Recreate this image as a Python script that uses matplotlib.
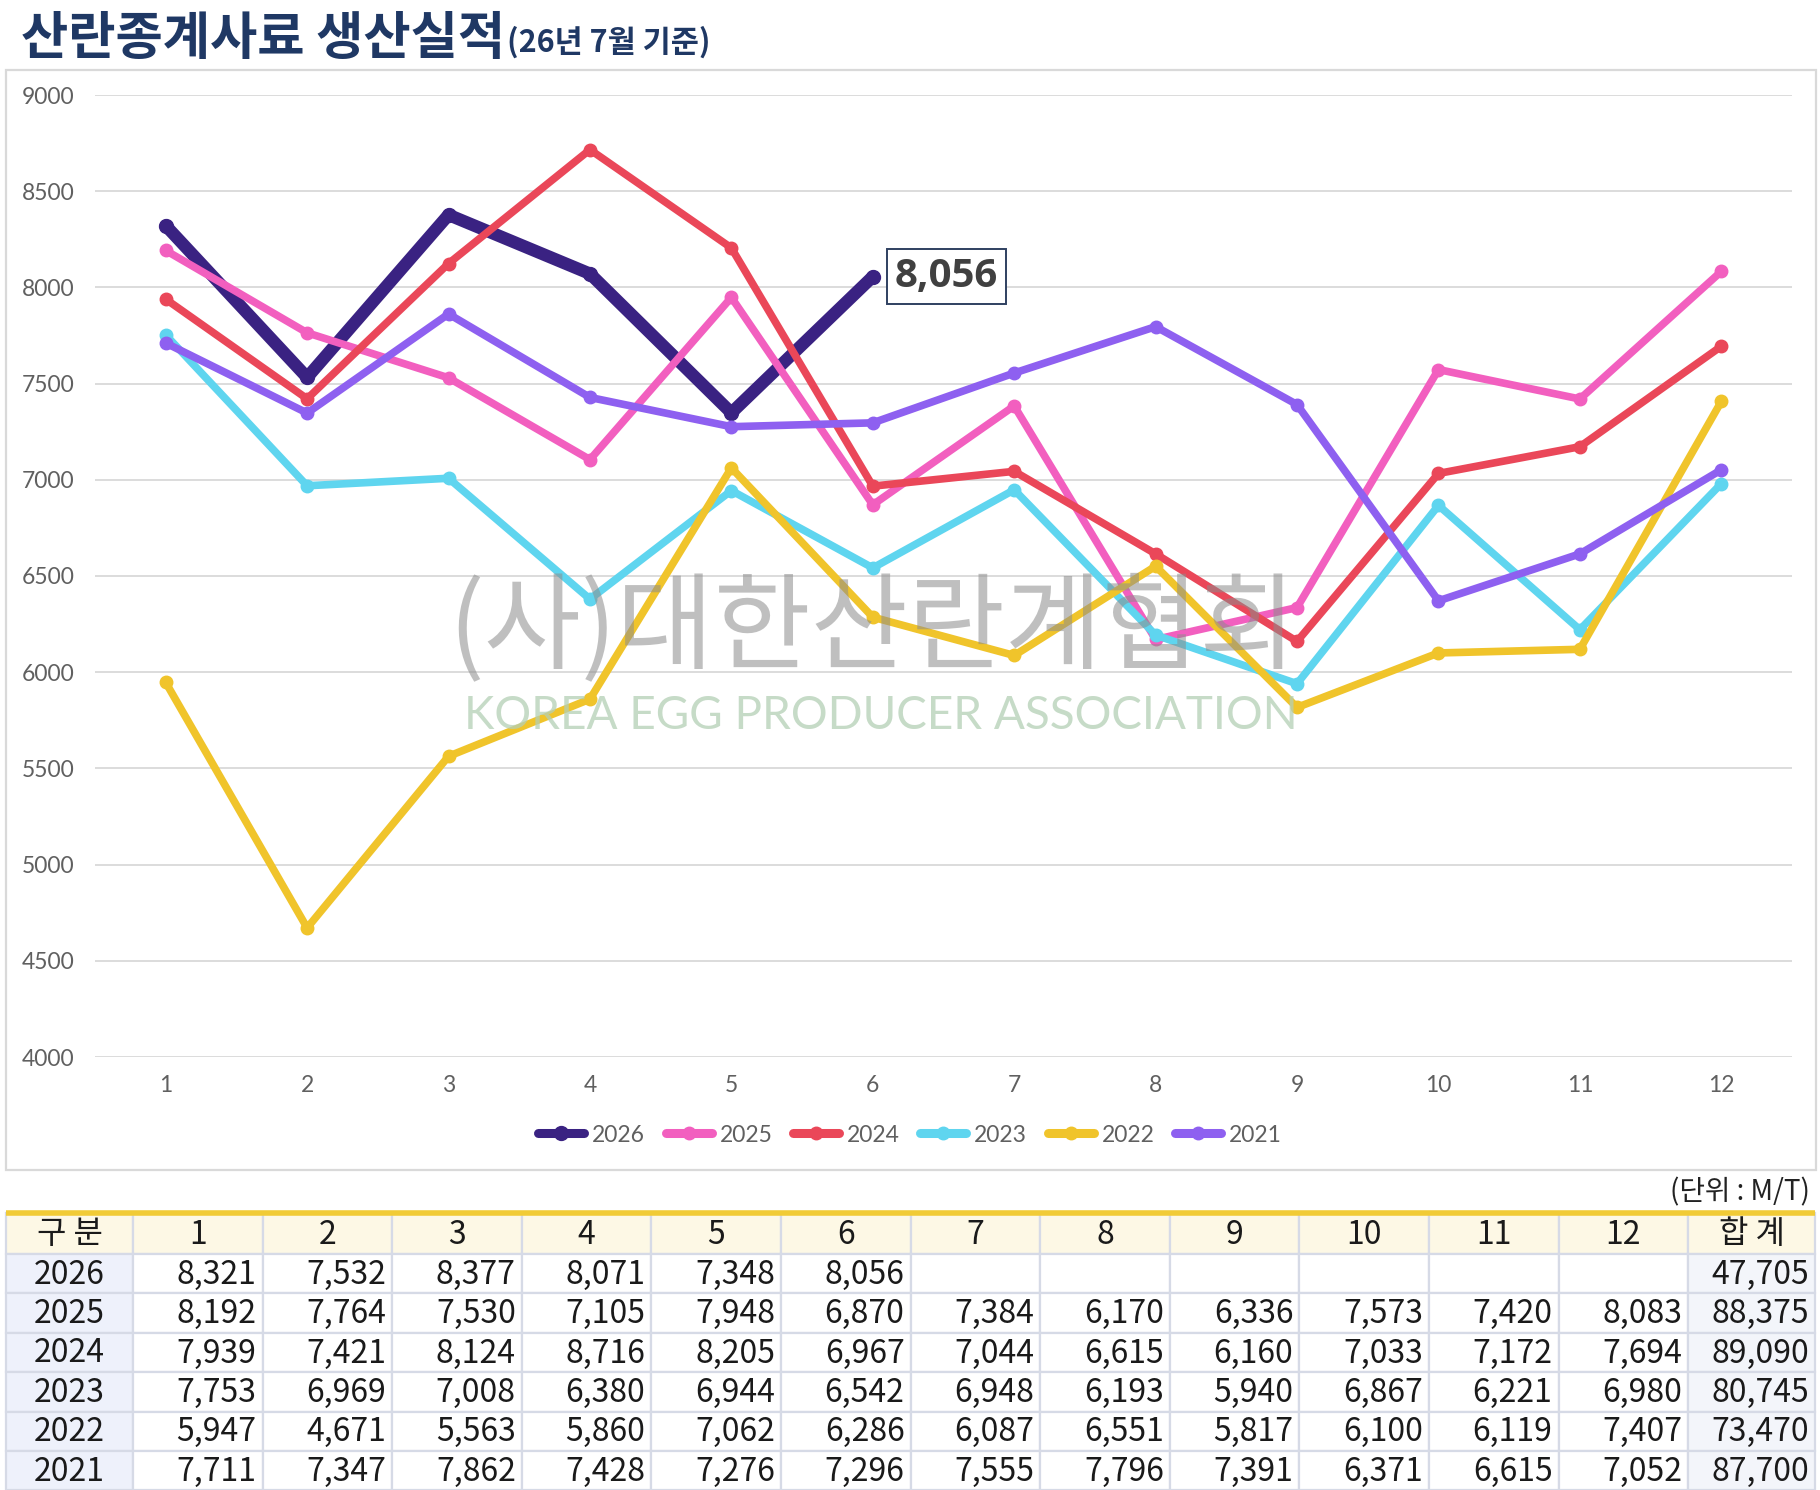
import matplotlib
matplotlib.use('Agg')
import matplotlib.pyplot as plt
from matplotlib.patches import Rectangle

plt.rcParams['font.family'] = ['Noto Sans CJK KR', 'DejaVu Sans']

# ---------------- data ----------------
months = [1, 2, 3, 4, 5, 6, 7, 8, 9, 10, 11, 12]
years = ['2026', '2025', '2024', '2023', '2022', '2021']
v2026 = [8321, 7532, 8377, 8071, 7348, 8056]
v2025 = [8192, 7764, 7530, 7105, 7948, 6870, 7384, 6170, 6336, 7573, 7420, 8083]
v2024 = [7939, 7421, 8124, 8716, 8205, 6967, 7044, 6615, 6160, 7033, 7172, 7694]
v2023 = [7753, 6969, 7008, 6380, 6944, 6542, 6948, 6193, 5940, 6867, 6221, 6980]
v2022 = [5947, 4671, 5563, 5860, 7062, 6286, 6087, 6551, 5817, 6100, 6119, 7407]
v2021 = [7711, 7347, 7862, 7428, 7276, 7296, 7555, 7796, 7391, 6371, 6615, 7052]
totals = [47705, 88375, 89090, 80745, 73470, 87700]
series = [v2026, v2025, v2024, v2023, v2022, v2021]
colors = ['#3a2282', '#f25fbf', '#ea4759', '#5fd5ef', '#f0c42b', '#8e60f0']
title_main = '산란종계사료 생산실적'
title_sub = '(26년 7월 기준)'
unit_text = '(단위 : M/T)'
hdr_first = '구 분'
hdr_last = '합 계'
wm_ko = '(사)대한산란계협회'
wm_en = 'KOREA EGG PRODUCER ASSOCIATION'

W, H = 1820, 1490
def fx(px): return px / W
def fy(py): return 1 - py / H

fig = plt.figure(figsize=(W / 100, H / 100), dpi=100)
fig.patch.set_facecolor('white')

# title
t1 = fig.text(fx(21), fy(54), title_main, fontsize=37, fontweight='heavy',
              color='#1f3864', va='baseline', ha='left')
fig.canvas.draw()
r = fig.canvas.get_renderer()
bb = t1.get_window_extent(r)
fig.text(bb.x1 / W + fx(2), fy(52), title_sub, fontsize=22, fontweight='heavy',
         color='#1f3864', va='baseline', ha='left')

# chart panel border
fig.patches.append(Rectangle((fx(6), fy(1170)), fx(1816) - fx(6), fy(70) - fy(1170),
                             transform=fig.transFigure, fill=False,
                             ec='#d9d9d9', lw=1.6))

ax = fig.add_axes([fx(95), fy(1057), fx(1792) - fx(95), fy(95) - fy(1057)])
ax.set_xlim(0.5, 12.5)
ax.set_ylim(4000, 9000)
ax.set_yticks(range(4000, 9001, 500))
ax.set_xticks(months)
ax.grid(axis='y', color='#d9d9d9', lw=1.3)
ax.set_axisbelow(True)
for s in ax.spines.values():
    s.set_visible(False)
ax.tick_params(axis='both', length=0, labelsize=16.5, colors='#606060')
ax.tick_params(axis='y', pad=15)
ax.tick_params(axis='x', pad=13)
for lab in ax.get_xticklabels() + ax.get_yticklabels():
    lab.set_family(['Lato', 'DejaVu Sans'])
    lab.set_fontweight('normal')

for i, (yr, vals, c) in enumerate(zip(years, series, colors)):
    lw = 9 if yr == '2026' else 5.5
    ms = 10 if yr == '2026' else 9
    ax.plot(months[:len(vals)], vals, color=c, lw=lw, marker='o', ms=ms,
            solid_joinstyle='round', solid_capstyle='round', label=yr,
            zorder=3 + i, clip_on=False)

ax.annotate(f'{v2026[-1]:,}', xy=(len(v2026), v2026[-1]), xytext=(22, 0),
            textcoords='offset pixels', ha='left', va='center', fontsize=29,
            fontweight='bold', color='#404040', family=['Open Sans', 'DejaVu Sans'],
            bbox=dict(boxstyle='square,pad=0.2', fc='white', ec='#2f4060', lw=1.4),
            zorder=20)

leg = fig.legend(loc='center', bbox_to_anchor=(fx(910), fy(1135)), ncol=6,
                 frameon=False, handlelength=2.0, handletextpad=0.35,
                 columnspacing=0.9, labelcolor='#606060',
                 prop={'family': ['Lato', 'DejaVu Sans'], 'weight': 'normal', 'size': 16.5})
for line in leg.get_lines():
    line.set_linewidth(6.5)
    line.set_solid_capstyle('round')

# watermark
fig.text(fx(872), fy(630), wm_ko, fontsize=76, color='#8c8c8c', alpha=0.55,
         ha='center', va='center', zorder=30)
fig.text(fx(881), fy(716), wm_en, fontsize=33, color='#b3cfb5', alpha=0.75,
         ha='center', va='center', fontweight='normal',
         family=['Lato', 'DejaVu Sans'], zorder=30)

# unit text
fig.text(fx(1810), fy(1192), unit_text, fontsize=20, color='#222222',
         ha='right', va='center')

# ---------------- table ----------------
tax = fig.add_axes([0, 0, 1, fy(1205)])
tax.set_xlim(0, W)
tax.set_ylim(H, 1205)
tax.axis('off')

col_w = [127] + [129.6] * 12 + [127]
col_x = [6]
for w in col_w:
    col_x.append(col_x[-1] + w)
top = 1213
hdr_h = 41
row_h = 39.4
grid_c = '#d6dae6'
txt_c = '#1a1a1a'
fs = 23

header = [hdr_first] + [str(m) for m in months] + [hdr_last]
for j, txt in enumerate(header):
    tax.add_patch(Rectangle((col_x[j], top), col_w[j], hdr_h, fc='#fdf8e5',
                            ec=grid_c, lw=1.6))
    tax.text(col_x[j] + col_w[j] / 2, top + hdr_h / 2 + 1, txt, ha='center',
             va='center', fontsize=fs, color=txt_c)

for i, (yr, vals, tot) in enumerate(zip(years, series, totals)):
    y0 = top + hdr_h + i * row_h
    cells = [yr] + [f'{v:,}' for v in vals] + [''] * (12 - len(vals)) + [f'{tot:,}']
    for j, txt in enumerate(cells):
        if j == 0:
            fc = '#eef1fb'
        elif j == len(cells) - 1:
            fc = '#f3f5fa'
        else:
            fc = 'white'
        tax.add_patch(Rectangle((col_x[j], y0), col_w[j], row_h, fc=fc,
                                ec=grid_c, lw=1.6))
        if j == 0:
            tax.text(col_x[j] + col_w[j] / 2, y0 + row_h / 2 + 1, txt,
                     ha='center', va='center', fontsize=fs, color=txt_c)
        elif txt:
            tax.text(col_x[j + 1] - 6, y0 + row_h / 2 + 1, txt, ha='right',
                     va='center', fontsize=fs, color=txt_c)

tax.plot([col_x[0], col_x[-1]], [top, top], color='#f1cb36', lw=4,
         solid_capstyle='butt')

fig.savefig('out.png', dpi=100, facecolor='white')
